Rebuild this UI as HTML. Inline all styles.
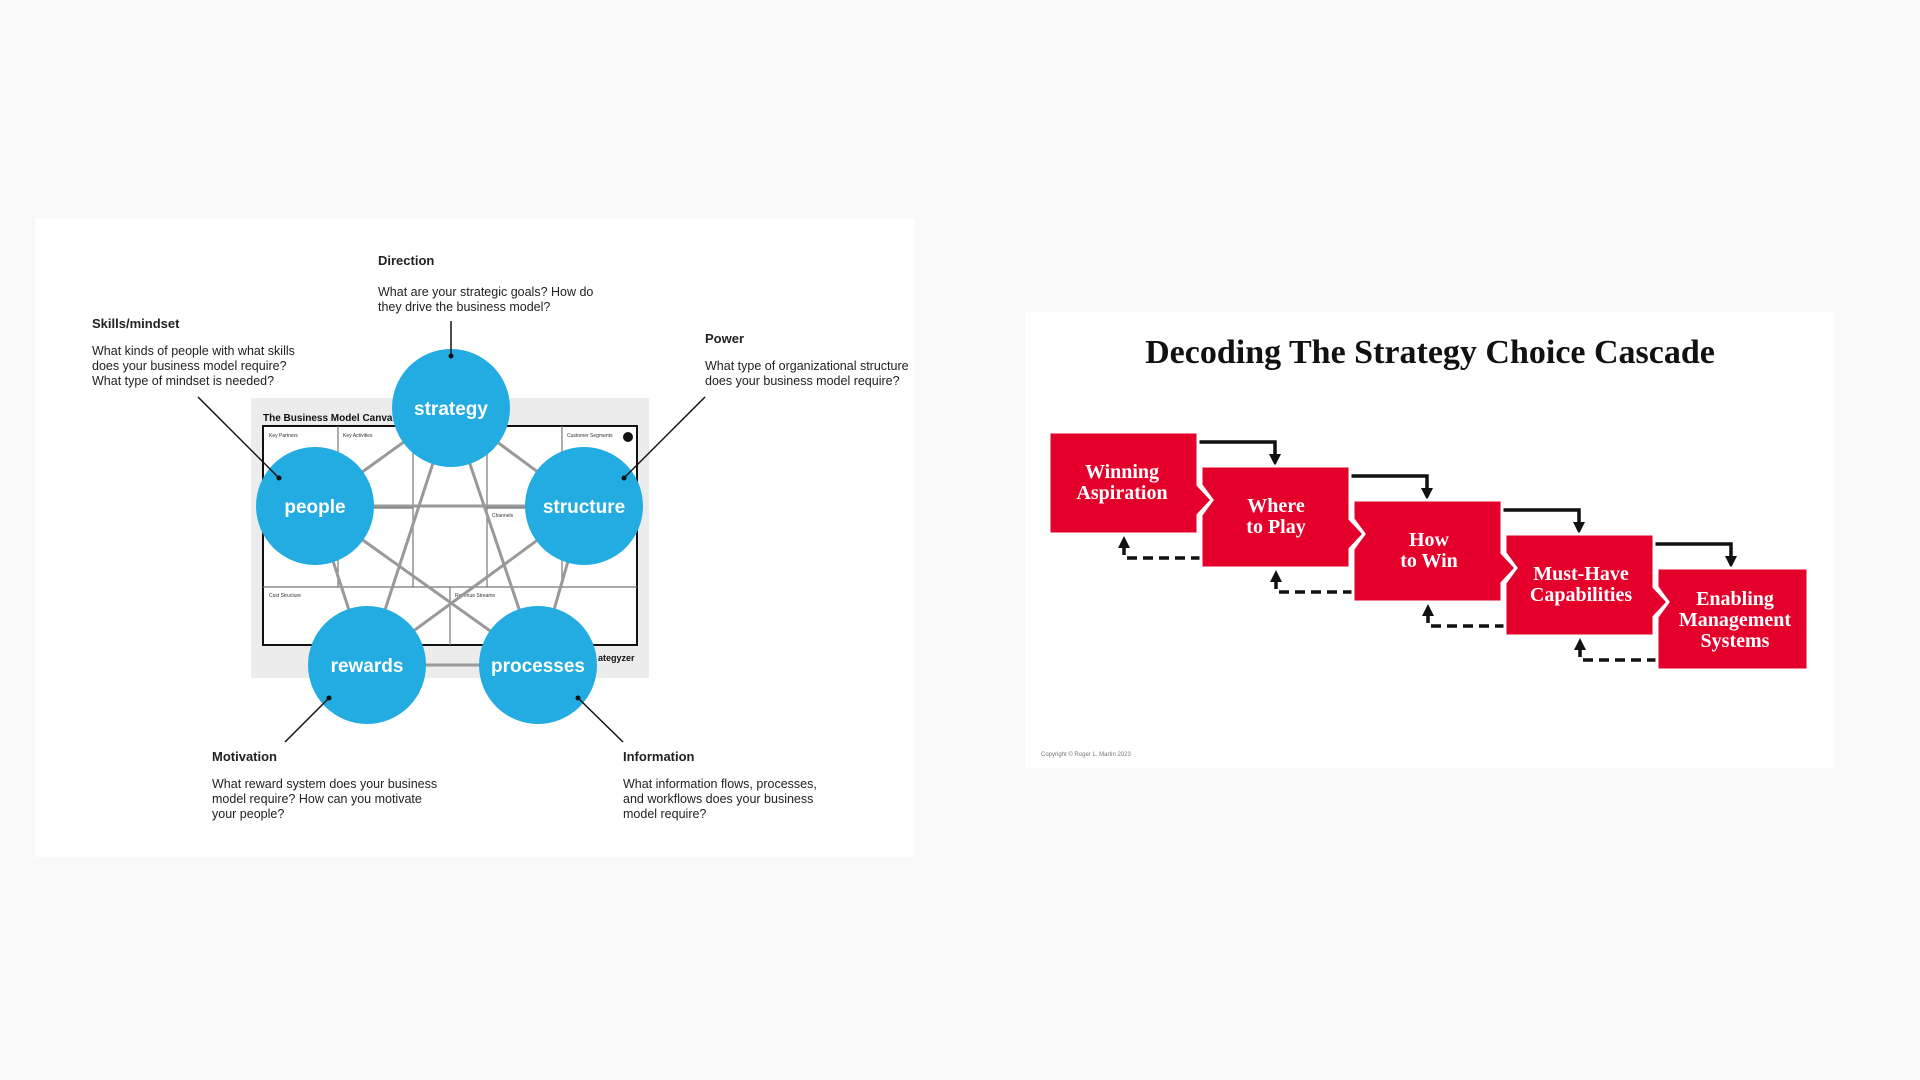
<!DOCTYPE html>
<html><head><meta charset="utf-8"><style>
html,body{margin:0;padding:0;width:1920px;height:1080px;background:#f9f9f9;overflow:hidden;font-family:"Liberation Sans",sans-serif}
</style></head><body>
<svg width="1920" height="1080" xmlns="http://www.w3.org/2000/svg" style="position:absolute;left:0;top:0">
<rect x="35" y="218" width="880" height="639" fill="#fff"/>
<rect x="1025" y="312" width="810" height="456" fill="#fff"/>

<!-- canvas image -->
<rect x="251" y="398" width="398" height="280" fill="#ececec"/>
<rect x="263" y="426" width="374" height="219" fill="#fff" stroke="#111" stroke-width="2"/>
<g stroke="#777" stroke-width="1.2">
<line x1="338" y1="426" x2="338" y2="587"/><line x1="413" y1="426" x2="413" y2="587"/>
<line x1="487" y1="426" x2="487" y2="587"/><line x1="562" y1="426" x2="562" y2="587"/>
<line x1="338" y1="508" x2="413" y2="508"/><line x1="487" y1="508" x2="562" y2="508"/>
<line x1="263" y1="587" x2="637" y2="587"/><line x1="450" y1="587" x2="450" y2="645"/>
</g>
<text x="263" y="421" font-size="10" font-weight="bold" fill="#111">The Business Model Canvas</text>
<text x="269" y="437" font-size="5" fill="#333">Key Partners</text>
<text x="343" y="437" font-size="5" fill="#333">Key Activities</text>
<text x="567" y="437" font-size="5" fill="#333">Customer Segments</text>
<text x="492" y="517" font-size="5" fill="#333">Channels</text>
<text x="269" y="597" font-size="5" fill="#333">Cost Structure</text>
<text x="455" y="597" font-size="5" fill="#333">Revenue Streams</text>
<text x="598" y="661" font-size="9" font-weight="bold" fill="#111">ategyzer</text>
<circle cx="628" cy="437" r="5" fill="#111"/>

<!-- star lines -->
<g stroke="#999" stroke-width="3">
<line x1="451" y1="408" x2="315" y2="506"/><line x1="315" y1="506" x2="367" y2="665"/>
<line x1="367" y1="665" x2="538" y2="665"/><line x1="538" y1="665" x2="584" y2="506"/>
<line x1="584" y1="506" x2="451" y2="408"/>
<line x1="451" y1="408" x2="367" y2="665"/><line x1="451" y1="408" x2="538" y2="665"/>
<line x1="315" y1="506" x2="584" y2="506"/><line x1="315" y1="506" x2="538" y2="665"/>
<line x1="584" y1="506" x2="367" y2="665"/>
</g>
<g fill="#22ace1">
<circle cx="451" cy="408" r="59"/><circle cx="315" cy="506" r="59"/><circle cx="584" cy="506" r="59"/>
<circle cx="367" cy="665" r="59"/><circle cx="538" cy="665" r="59"/>
</g>
<g fill="#fff" font-size="19" font-weight="bold" text-anchor="middle">
<text x="451" y="415">strategy</text><text x="315" y="513">people</text><text x="584" y="513">structure</text>
<text x="367" y="672">rewards</text><text x="538" y="672">processes</text>
</g>
<g stroke="#111" stroke-width="1.5">
<line x1="451" y1="321" x2="451" y2="356"/><line x1="198" y1="397" x2="279" y2="478"/>
<line x1="705" y1="397" x2="624" y2="478"/><line x1="285" y1="742" x2="329" y2="698"/>
<line x1="623" y1="742" x2="578" y2="698"/>
</g>
<g fill="#111"><circle cx="451" cy="356" r="2.5"/><circle cx="279" cy="478" r="2.5"/><circle cx="624" cy="478" r="2.5"/><circle cx="329" cy="698" r="2.5"/><circle cx="578" cy="698" r="2.5"/></g>

<g font-size="12.5" fill="#222">
<text x="378" y="265" font-weight="bold" font-size="13">Direction</text>
<text x="378" y="296">What are your strategic goals? How do</text>
<text x="378" y="311">they drive the business model?</text>
<text x="92" y="328" font-weight="bold" font-size="13">Skills/mindset</text>
<text x="92" y="355">What kinds of people with what skills</text>
<text x="92" y="370">does your business model require?</text>
<text x="92" y="385">What type of mindset is needed?</text>
<text x="705" y="343" font-weight="bold" font-size="13">Power</text>
<text x="705" y="370">What type of organizational structure</text>
<text x="705" y="385">does your business model require?</text>
<text x="212" y="761" font-weight="bold" font-size="13">Motivation</text>
<text x="212" y="788">What reward system does your business</text>
<text x="212" y="803">model require? How can you motivate</text>
<text x="212" y="818">your people?</text>
<text x="623" y="761" font-weight="bold" font-size="13">Information</text>
<text x="623" y="788">What information flows, processes,</text>
<text x="623" y="803">and workflows does your business</text>
<text x="623" y="818">model require?</text>
</g>

<!-- cascade -->
<text x="1430" y="363" text-anchor="middle" font-family="Liberation Serif,serif" font-weight="bold" font-size="34" fill="#111">Decoding The Strategy Choice Cascade</text>
<g stroke="#111" stroke-width="3.5" fill="none">
<path d="M1198 442 H1275 V458"/><path d="M1350 476 H1427 V492"/><path d="M1502 510 H1579 V526"/><path d="M1654 544 H1731 V560"/>
</g>
<g fill="#111"><path d="M1269 454 h12 l-6 12z"/><path d="M1421 488 h12 l-6 12z"/><path d="M1573 522 h12 l-6 12z"/><path d="M1725 556 h12 l-6 12z"/>
<path d="M1118 548 h12 l-6 -12z"/><path d="M1270 582 h12 l-6 -12z"/><path d="M1422 616 h12 l-6 -12z"/><path d="M1574 650 h12 l-6 -12z"/></g>
<g stroke="#111" stroke-width="3.5" fill="none" stroke-dasharray="10,6">
<path d="M1201 558 H1124 V547"/><path d="M1353 592 H1276 V581"/><path d="M1505 626 H1428 V615"/><path d="M1657 660 H1580 V649"/>
</g>
<g fill="#e4002b" stroke="#fff" stroke-width="3">
<path d="M1049 432 H1198 V485 L1212 500 L1198 515 V534 H1049Z"/>
<path d="M1201 466 H1350 V519 L1364 534 L1350 549 V568 H1201 V515 L1212 500 L1201 485Z"/>
<path d="M1353 500 H1502 V553 L1516 568 L1502 583 V602 H1353 V549 L1364 534 L1353 519Z"/>
<path d="M1505 534 H1654 V587 L1668 602 L1654 617 V636 H1505 V583 L1516 568 L1505 553Z"/>
<path d="M1657 568 H1808 V670 H1657 V617 L1668 602 L1657 587Z"/>
</g>
<g fill="#fff" font-family="Liberation Serif,serif" font-weight="bold" font-size="20" text-anchor="middle">
<text x="1122" y="478">Winning</text><text x="1122" y="499">Aspiration</text>
<text x="1276" y="512">Where</text><text x="1276" y="533">to Play</text>
<text x="1429" y="546">How</text><text x="1429" y="567">to Win</text>
<text x="1581" y="580">Must-Have</text><text x="1581" y="601">Capabilities</text>
<text x="1735" y="605">Enabling</text><text x="1735" y="626">Management</text><text x="1735" y="647">Systems</text>
</g>
<text x="1041" y="756" font-size="6" fill="#777">Copyright © Roger L. Martin 2023</text>
</svg>
</body></html>
